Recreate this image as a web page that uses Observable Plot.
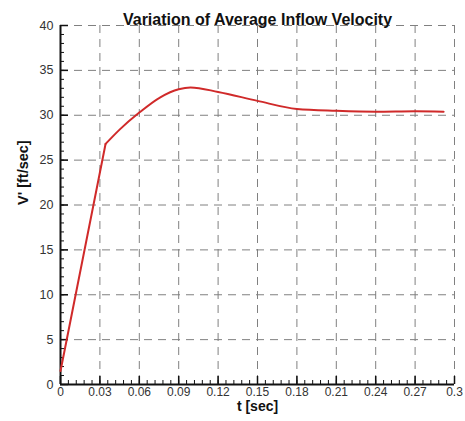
<!DOCTYPE html>
<html><head><meta charset="utf-8">
<script src="https://cdn.jsdelivr.net/npm/d3@7"></script>
<script src="https://cdn.jsdelivr.net/npm/@observablehq/plot@0.6"></script>
<style>
body{margin:0;background:#fff}
svg{font-family:"Liberation Sans",Arial,sans-serif}
</style>
</head><body><div id="chart"></div>
<script>
const tSec = [0, 0.0343, 0.045, 0.06, 0.076, 0.09, 0.099, 0.12, 0.15, 0.18, 0.21, 0.24, 0.27, 0.2917];
const velocity = [1.5, 26.8, 28.4, 30.3, 32.0, 32.9, 33.1, 32.6, 31.6, 30.7, 30.5, 30.4, 30.45, 30.4];
const xTicks = [0, 0.03, 0.06, 0.09, 0.12, 0.15, 0.18, 0.21, 0.24, 0.27, 0.3];
const xTickLabels = ["0", "0.03", "0.06", "0.09", "0.12", "0.15", "0.18", "0.21", "0.24", "0.27", "0.3"];
const yTicks = [0, 5, 10, 15, 20, 25, 30, 35, 40];
const titleText = "Variation of Average Inflow Velocity";
const xLabel = "t [sec]";
const yLabel = "V' [ft/sec]";

const data = tSec.map((t, i) => ({t, v: velocity[i]}));
const rampPart = data.slice(0, 2);
const smoothPart = data.slice(1);
const xMinor = d3.range(0, 50).map(i => i * 0.006).filter(d => d < 0.3);
const yMinor = d3.range(0, 41);

const grid = {stroke: "#808080", strokeOpacity: 1, strokeWidth: 1, strokeDasharray: "8,6"};

const chart = Plot.plot({
  width: 465, height: 421,
  marginLeft: 60, marginRight: 11, marginTop: 25, marginBottom: 37,
  x: {domain: [0, 0.3]},
  y: {domain: [0, 40]},
  style: {fontFamily: "'Liberation Sans', Arial, sans-serif", fontSize: "12px", color: "#333", background: "#fff"},
  marks: [
    Plot.gridX(xTicks.slice(1), grid),
    Plot.gridY(yTicks.slice(1), grid),
    Plot.axisX(xTicks, {tickSize: 0, tickPadding: 3, tickFormat: (d, i) => xTickLabels[i], label: null, fontSize: 12}),
    Plot.axisX(xMinor, {text: null, tickSize: 4, dy: -4, label: null, stroke: "#111"}),
    Plot.axisX(xTicks, {text: null, tickSize: 8, dy: -8, label: null, stroke: "#111", strokeWidth: 1.5}),
    Plot.axisY(yTicks, {tickSize: 0, tickPadding: 7, label: null, fontSize: 12.5}),
    Plot.axisY(yMinor, {text: null, tickSize: 4, dx: 4, label: null, stroke: "#111"}),
    Plot.axisY(yTicks, {text: null, tickSize: 8, dx: 8, label: null, stroke: "#111", strokeWidth: 1.5}),
    Plot.ruleX([0], {stroke: "#111", strokeWidth: 2}),
    Plot.ruleY([0], {stroke: "#111", strokeWidth: 2}),
    Plot.line(rampPart, {x: "t", y: "v", stroke: "#d02a2a", strokeWidth: 2}),
    Plot.line(smoothPart, {x: "t", y: "v", stroke: "#d02a2a", strokeWidth: 2, curve: "monotone-x"}),
    Plot.text([titleText], {frameAnchor: "top", dy: -12, fontWeight: "bold", fontSize: 16, fill: "#111"}),
    Plot.text([xLabel], {frameAnchor: "bottom", dy: 26, fontWeight: "bold", fontSize: 14, fill: "#111"}),
    Plot.text([yLabel], {frameAnchor: "left", dx: -37, rotate: -90, fontWeight: "bold", fontSize: 14.5, fill: "#111"})
  ]
});
document.getElementById("chart").appendChild(chart);
</script>
</body></html>
